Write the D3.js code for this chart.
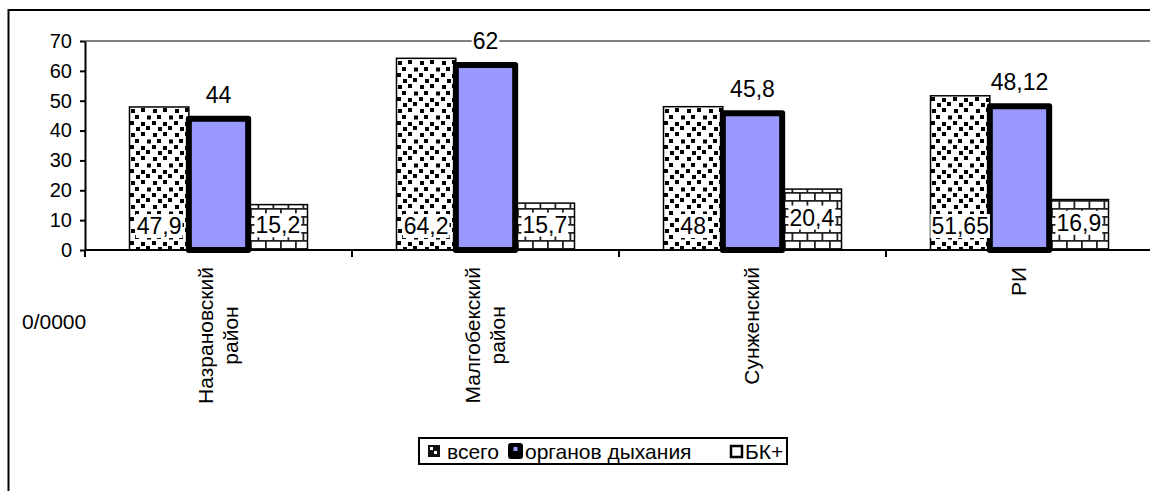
<!DOCTYPE html>
<html>
<head>
<meta charset="utf-8">
<script src="https://cdn.jsdelivr.net/npm/d3@7"></script>
<style>
  html, body { margin: 0; padding: 0; background: #fff; }
  svg { display: block; font-family: Arial, "Liberation Sans", sans-serif; }
</style>
</head>
<body>
<svg id="chart" width="1150" height="491"></svg>
<script>
// Districts (a space splits a label onto two lines)
const categories = ["Назрановский район", "Малгобекский район", "Сунженский", "РИ"];
const seriesNames = ["всего", "органов дыхания", "БК+"];
const totalValues = [47.9, 64.2, 48, 51.65];
const respiratoryValues = [44, 62, 45.8, 48.12];
const bkValues = [15.2, 15.7, 20.4, 16.9];
const yTicks = [0, 10, 20, 30, 40, 50, 60, 70];
const unitLabel = "0/0000";

const seriesValues = [totalValues, respiratoryValues, bkValues];
const fmt = v => String(v).replace(".", ",");

const svg = d3.select("#chart");
const W = 1150, H = 491;
const plot = { left: 85, right: 1153, top: 41, bottom: 250 };

svg.append("rect").attr("width", W).attr("height", H).attr("fill", "#fff");

// ---- fill patterns ----
const defs = svg.append("defs");

// scattered squares ("confetti")
const conf = defs.append("pattern").attr("id", "confetti")
  .attr("patternUnits", "userSpaceOnUse").attr("width", 22).attr("height", 24);
conf.append("rect").attr("width", 22).attr("height", 24).attr("fill", "#fff");
[[1, 1], [12, 2], [7, 7], [17, 6], [2, 13], [12, 12], [6, 19], [18, 19.5]].forEach(([px, py]) =>
  conf.append("rect").attr("x", px).attr("y", py).attr("width", 4).attr("height", 4).attr("fill", "#000"));

// horizontal brick
const brick = defs.append("pattern").attr("id", "brick")
  .attr("patternUnits", "userSpaceOnUse").attr("width", 15).attr("height", 16);
brick.append("rect").attr("width", 15).attr("height", 16).attr("fill", "#fff");
brick.append("path")
  .attr("d", "M0,0.9H15M0,8.9H15M0.9,0V8.9M8.4,8.9V16")
  .attr("stroke", "#222").attr("stroke-width", 1.8).attr("fill", "none");

// ---- chart frame ----
svg.append("rect").attr("x", 8.5).attr("y", 10).attr("width", 1200).attr("height", 600)
  .attr("fill", "none").attr("stroke", "#000").attr("stroke-width", 2);

// ---- scales ----
const x0 = d3.scaleBand().domain(categories).range([plot.left, plot.right]);
const x1 = d3.scaleBand().domain(seriesNames).range([0, x0.bandwidth()]).paddingOuter(0.75);
const y = d3.scaleLinear().domain([0, 70]).range([plot.bottom, plot.top]);

// top border of the plot area
svg.append("line")
  .attr("x1", plot.left).attr("x2", W).attr("y1", y(70)).attr("y2", y(70))
  .attr("stroke", "#808080").attr("stroke-width", 2);

// ---- y axis ----
const yAxis = svg.append("g").attr("transform", `translate(${plot.left},0)`)
  .call(d3.axisLeft(y).tickValues(yTicks).tickSize(5).tickSizeOuter(0).tickPadding(8));
yAxis.select(".domain").attr("stroke", "#000").attr("stroke-width", 2);
yAxis.selectAll(".tick line").attr("stroke", "#000").attr("stroke-width", 2);
yAxis.selectAll(".tick text").attr("font-size", 20).attr("fill", "#000")
  .attr("font-family", "Arial, 'Liberation Sans', sans-serif");

// ---- bars ----
const fills = ["url(#confetti)", "#9999ff", "url(#brick)"];
const groups = svg.append("g").selectAll("g").data(categories).join("g")
  .attr("transform", d => `translate(${x0(d)},0)`);

function drawSeries(si) {
  groups.append("rect")
    .attr("x", x1(seriesNames[si]))
    .attr("width", x1.bandwidth())
    .attr("y", (d, i) => y(seriesValues[si][i]))
    .attr("height", (d, i) => y(0) - y(seriesValues[si][i]))
    .attr("fill", fills[si])
    .attr("stroke", "#000")
    .attr("stroke-width", si === 1 ? 6 : 1.5)
    .attr("stroke-linejoin", si === 1 ? "round" : "miter");
}
drawSeries(0);
drawSeries(2);
drawSeries(1);

// ---- x axis ----
const xAxisG = svg.append("g");
xAxisG.append("line").attr("x1", plot.left).attr("x2", W)
  .attr("y1", y(0)).attr("y2", y(0)).attr("stroke", "#000").attr("stroke-width", 2);
const edges = categories.map(c => x0(c));
xAxisG.selectAll("line.tk").data(edges).join("line").attr("class", "tk")
  .attr("x1", d => d).attr("x2", d => d)
  .attr("y1", y(0)).attr("y2", y(0) + 7)
  .attr("stroke", "#000").attr("stroke-width", 2);

// rotated category labels
const lineH = 25;
categories.forEach(c => {
  const lines = c.split(" ");
  const cx = x0(c) + x0.bandwidth() / 2;
  const g = svg.append("g").attr("transform", `translate(${cx},267) rotate(-90)`);
  const texts = lines.map((ln, k) => g.append("text")
    .attr("font-size", 21).attr("fill", "#000")
    .attr("text-anchor", "middle")
    .attr("y", -lines.length * lineH / 2 + k * lineH + 19)
    .text(ln));
  const maxLen = d3.max(texts, t => t.node().getComputedTextLength());
  texts.forEach(t => t.attr("x", -maxLen / 2));
});

// unit caption
svg.append("text").attr("x", 22).attr("y", 329).attr("font-size", 21).attr("fill", "#000").text(unitLabel);

// ---- data labels ----
function label(px, cy, txt) {
  const g = svg.append("g");
  const t = g.append("text").attr("x", px).attr("y", cy + 8)
    .attr("text-anchor", "middle").attr("font-size", 23).attr("fill", "#000").text(txt);
  const b = t.node().getBBox();
  g.insert("rect", "text").attr("x", b.x - 1).attr("y", cy - 12).attr("width", b.width + 2)
    .attr("height", 24).attr("fill", "#fff");
}
categories.forEach((c, i) => {
  const base = x0(c);
  // всего: inside base
  label(base + x1(seriesNames[0]) + x1.bandwidth() / 2, y(0) - 24, fmt(totalValues[i]));
  // органов дыхания: above bar
  label(base + x1(seriesNames[1]) + x1.bandwidth() / 2, y(respiratoryValues[i]) - 24, fmt(respiratoryValues[i]));
  // БК+: centred in bar
  label(base + x1(seriesNames[2]) + x1.bandwidth() / 2, (y(bkValues[i]) + y(0)) / 2 - 2, fmt(bkValues[i]));
});

// ---- legend ----
const lg = svg.append("g");
lg.append("rect").attr("x", 419).attr("y", 438).attr("width", 368).attr("height", 26)
  .attr("fill", "#fff").attr("stroke", "#000").attr("stroke-width", 2);
const itemX = [428, 508, 730];
const textX = [447, 525, 745];
// всего swatch
lg.append("rect").attr("x", itemX[0]).attr("y", 445).attr("width", 12).attr("height", 12).attr("fill", "#111");
lg.append("rect").attr("x", itemX[0] + 2).attr("y", 447).attr("width", 3).attr("height", 3).attr("fill", "#fff");
lg.append("rect").attr("x", itemX[0] + 6).attr("y", 451).attr("width", 3).attr("height", 3).attr("fill", "#fff");
// органов дыхания swatch
lg.append("rect").attr("x", itemX[1]).attr("y", 443).attr("width", 15).attr("height", 16).attr("rx", 3)
  .attr("fill", "#000");
lg.append("rect").attr("x", itemX[1] + 5.5).attr("y", 447).attr("width", 4).attr("height", 4).attr("fill", "#9999ff");
// БК+ swatch
lg.append("rect").attr("x", itemX[2] + 1).attr("y", 446).attr("width", 11).attr("height", 11)
  .attr("fill", "#fff").attr("stroke", "#000").attr("stroke-width", 2.5);
seriesNames.forEach((s, i) => {
  lg.append("text").attr("x", textX[i]).attr("y", 459).attr("font-size", 21).attr("fill", "#000").text(s);
});
</script>
</body>
</html>
